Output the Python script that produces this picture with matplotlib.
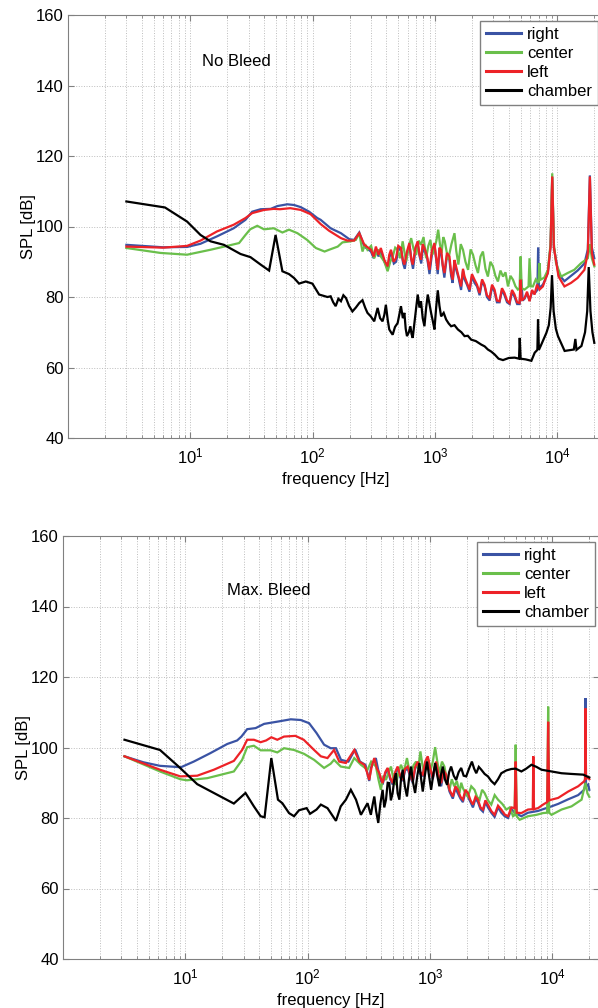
import matplotlib
matplotlib.use("Agg")
import matplotlib.pyplot as plt
from matplotlib.ticker import LogLocator, NullFormatter

plt.rcParams["font.family"] = ["Liberation Sans", "DejaVu Sans"]
plt.rcParams["mathtext.fontset"] = "custom"
plt.rcParams["mathtext.rm"] = "Liberation Sans"

BLUE = "#3a53a4"
GREEN = "#6abf4b"
RED = "#ed2227"
BLACK = "#000000"

LABELS = ["right", "center", "left", "chamber"]

# (frequency [Hz], SPL [dB])

# ---- No Bleed ----
nb_right = [
    (3, 94.8), (6, 94.1), (9.4, 94.2), (12.1, 95.1), (16.5, 97.2), (22.6, 99.5), (28.2, 101.9),
    (32, 104.2), (37.5, 104.9), (45.3, 105.0), (51.4, 105.8), (62, 106.3), (70.3, 106.1),
    (79.7, 105.5), (93.4, 104.2), (109, 102.4), (116, 101.9), (140, 99.5), (170, 98.1),
    (199, 96.4), (218, 96.2), (240, 98.3), (264, 94.3), (299, 92.9), (315, 91), (330, 93.5),
    (345, 91.5), (360, 93), (385, 90), (410, 88), (425, 91.5), (440, 92.5), (460, 89.5),
    (480, 90), (505, 94), (530, 93), (548, 89.5), (565, 88), (592, 92.5), (620, 94.5),
    (640, 90.5), (660, 88), (692, 93.5), (720, 95), (748, 91.5), (770, 89.5), (795, 94.5),
    (820, 93), (862, 91), (900, 86.5), (945, 92.5), (990, 94.5), (1022, 90.5), (1050, 86.5),
    (1088, 93.5), (1120, 92.5), (1158, 88.5), (1190, 85.5), (1252, 92), (1310, 90.5),
    (1352, 86), (1390, 84), (1442, 90), (1480, 88), (1552, 85.5), (1630, 82), (1692, 87.5),
    (1740, 85), (1822, 83.5), (1910, 81.5), (2002, 86), (2100, 84), (2202, 83), (2310, 80.5),
    (2422, 84.5), (2540, 83), (2652, 80), (2790, 79), (2922, 83), (3060, 81.5), (3202, 78.5),
    (3360, 78.5), (3522, 82), (3690, 80.5), (3872, 78.5), (4060, 78), (4252, 81.5), (4460, 80),
    (4682, 78), (4900, 78), (5060, 85), (5200, 79), (5380, 79.5), (5642, 81), (5910, 79),
    (6200, 81.5), (6500, 81), (6850, 82), (6950, 94), (7050, 82.5), (7600, 83.5), (7950, 85),
    (8350, 87), (8780, 94.5), (9060, 114.0), (9350, 94), (10200, 86.5), (11400, 84.5),
    (12900, 86), (14600, 87.5), (16600, 89.5), (17700, 93.5), (18400, 114.5), (19100, 94),
    (20000, 91),
]

nb_center = [
    (3, 93.9), (5.7, 92.5), (9.4, 92.0), (14.6, 93.4), (20, 94.5), (25, 95.3), (28.2, 97.6),
    (30.8, 99.2), (35.2, 100.2), (40, 99.2), (48, 99.5), (56.5, 98.3), (64, 99.1), (75, 98.1),
    (90, 96.2), (106, 93.9), (125, 92.9), (136, 93.4), (160, 94.3), (175, 95.5), (205, 95.8),
    (225, 96.2), (240, 98.1), (255, 92.9), (268, 95), (280, 93.4), (300, 94.5), (318, 91),
    (340, 93.5), (360, 91.5), (385, 90), (409, 87.3), (430, 90), (450, 91.5), (472, 94),
    (494, 93.4), (518, 91), (543, 95.8), (560, 93), (580, 90.1), (608, 94), (637, 96.7),
    (668, 93.5), (700, 92), (735, 96), (767, 94.8), (805, 97), (844, 91), (880, 94.5),
    (915, 96.2), (950, 92), (988, 93.9), (1025, 96), (1060, 99.1), (1095, 95), (1130, 92.5),
    (1165, 97), (1200, 95.8), (1240, 93), (1280, 90.6), (1360, 95), (1440, 98.1), (1490, 93),
    (1550, 89.2), (1620, 95), (1690, 93.4), (1770, 90), (1860, 87.7), (1950, 93.5), (2040, 92),
    (2140, 89), (2240, 86.8), (2350, 91.5), (2460, 92.9), (2580, 88), (2700, 85.8), (2830, 90),
    (2970, 88.7), (3110, 86), (3260, 84.4), (3420, 87.5), (3590, 85.8), (3760, 87), (3940, 83),
    (4130, 86), (4330, 84.9), (4540, 83), (4750, 82.1), (4900, 82.5), (5000, 91.5), (5100, 82.5),
    (5380, 82.1), (5800, 83), (5910, 91), (6050, 83), (6300, 83), (6650, 85), (7000, 84),
    (7130, 89.6), (7260, 84.9), (7800, 85.5), (8350, 87.7), (8780, 95), (9060, 115.1),
    (9350, 95), (9730, 89.6), (10700, 85.8), (12100, 86.8), (13700, 87.7), (15600, 89.6),
    (17700, 91), (18400, 95), (19100, 91), (20000, 88.7),
]

nb_left = [
    (3, 94.3), (6, 94.0), (9.4, 94.5), (12.1, 96.0), (16.5, 98.6), (22.6, 100.5), (28.2, 102.4),
    (32, 103.8), (40, 104.7), (48, 105.0), (54, 104.9), (65.5, 105.2), (80, 104.7), (96, 103.5),
    (116, 100.7), (136, 98.8), (170, 96.7), (192, 96.0), (218, 96.0), (240, 98.1), (264, 94.8),
    (299, 93.4), (315, 91.5), (328, 94.3), (345, 92), (360, 93.9), (385, 90.5), (409, 88.7),
    (422, 92), (436, 93.4), (458, 90), (479, 91), (500, 94.5), (526, 93.9), (545, 90.5),
    (561, 89.2), (590, 93), (616, 95.3), (636, 91), (656, 89.2), (690, 94), (721, 95.8),
    (745, 92), (767, 90.6), (792, 95), (818, 93.9), (860, 91.5), (899, 87.7), (940, 93),
    (988, 95.3), (1020, 91), (1052, 87.7), (1085, 94), (1120, 93.4), (1155, 89), (1192, 86.8),
    (1250, 92.5), (1310, 91.5), (1350, 87), (1393, 84.9), (1440, 90.5), (1483, 88.7), (1550, 86),
    (1629, 83), (1690, 88), (1740, 85.8), (1820, 84), (1912, 82.1), (2000, 86.5), (2100, 84.9),
    (2200, 83.5), (2308, 81.1), (2420, 85), (2535, 83.5), (2650, 80.5), (2785, 79.7),
    (2920, 83.5), (3060, 82.1), (3200, 79), (3361, 78.8), (3520, 82.5), (3693, 81.1),
    (3870, 79), (4057, 78.3), (4250, 82), (4457, 80.7), (4680, 78.5), (4897, 78.3), (5000, 84.9),
    (5100, 79), (5380, 79.7), (5640, 81.5), (5910, 78.8), (6200, 82), (6495, 80.7),
    (6800, 83.5), (7134, 82.1), (7600, 83), (7950, 85), (8350, 86.8), (8780, 94.3),
    (9060, 114.2), (9350, 94.0), (10200, 85.8), (11400, 83.0), (12900, 84.0), (14600, 85.4),
    (16600, 87.7), (17700, 92.5), (18400, 114.2), (19100, 92.5), (20000, 89.2),
]

nb_chamber = [
    (3, 107.1), (6.2, 105.4), (9.4, 101.4), (12.1, 97.6), (14.6, 95.8), (18.8, 94.8),
    (25.7, 92.2), (31, 91.3), (37.5, 89.2), (44, 87.5), (49.7, 97.6), (56.5, 87.3), (64, 86.5),
    (70.3, 85.4), (77.3, 83.8), (87.7, 84.4), (99.4, 83.8), (112.7, 80.7), (132, 80),
    (140, 80.2), (147, 78.5), (154, 77.4), (162, 79.5), (170, 78.8), (178, 80.5), (187, 79.7),
    (198, 77.5), (211, 75.9), (225, 77), (240, 78.3), (255, 79.1), (268, 77), (280, 75.5),
    (298, 74.5), (318, 73.1), (339, 76.9), (355, 74), (372, 73.1), (385, 75), (396, 77.8),
    (410, 73.5), (422, 70.8), (436, 70), (450, 69.3), (470, 71.5), (494, 72.6), (510, 75),
    (526, 77.4), (545, 74), (561, 75.5), (575, 71), (589, 68.9), (610, 70), (628, 71.7),
    (642, 69.5), (656, 68.4), (690, 75), (721, 80.7), (745, 77), (767, 78.8), (792, 74),
    (818, 71.7), (845, 77), (871, 80.7), (900, 78), (927, 75.5), (960, 73), (988, 70.8),
    (1020, 77), (1052, 81.9), (1085, 77.5), (1120, 74.5), (1175, 75.5), (1231, 73.6),
    (1290, 72.5), (1352, 71.7), (1440, 72), (1534, 70.8), (1640, 70), (1740, 68.9), (1850, 69),
    (1972, 67.9), (2150, 67.5), (2383, 66.5), (2540, 66), (2700, 65.1), (2880, 64.5),
    (3065, 63.7), (3300, 62.5), (3586, 62.1), (4000, 62.7), (4470, 62.8), (4850, 62.5),
    (4915, 68.4), (5000, 62.5), (5500, 62.3), (6120, 61.9), (6515, 64.2), (6850, 65),
    (6935, 73.6), (7050, 65), (7290, 66.1), (8110, 69.8), (8500, 72), (8800, 77), (9020, 86.2),
    (9300, 76), (9700, 71), (10090, 68.9), (11440, 64.7), (13600, 65.1), (14000, 68.1),
    (14300, 65), (15700, 66.1), (16800, 70), (17500, 76), (18000, 88.5), (18600, 76),
    (19300, 70), (20000, 67),
]

# ---- Max. Bleed ----
mb_right = [
    (3.18, 97.5), (4.55, 95.8), (6.2, 94.8), (9.2, 94.4), (11.7, 96.0), (16, 98.4), (22, 101.0),
    (26.5, 102.0), (28.7, 103.1), (32, 105.2), (37.5, 105.5), (44, 106.7), (58, 107.4),
    (72.6, 108.0), (87.7, 107.8), (102.6, 106.9), (118, 104.1), (136, 100.8), (154, 99.8),
    (170, 99.8), (187, 96.5), (215, 96.0), (244, 99.5), (267, 96.0), (296, 95.1), (318, 90.5),
    (328, 94.2), (360, 97.0), (385, 92), (398, 90.5), (409, 89.5), (430, 92.5), (450, 94),
    (472, 91), (494, 89.5), (518, 92.5), (543, 94), (570, 91.5), (597, 90.5), (625, 93.5),
    (656, 94), (690, 91.5), (721, 90), (755, 94), (792, 95.5), (830, 92.5), (871, 92),
    (912, 95.5), (957, 97), (1003, 93.5), (1052, 91), (1085, 93.5), (1119, 95.5), (1175, 91.5),
    (1231, 89), (1290, 93), (1352, 91.5), (1440, 87.5), (1534, 85.5), (1610, 88.5), (1686, 87),
    (1770, 85.5), (1853, 84.5), (1945, 87.5), (2037, 86), (2140, 84.5), (2239, 83),
    (2350, 85.5), (2460, 84.5), (2580, 82.5), (2704, 81.8), (2830, 84.5), (2970, 83),
    (3160, 81.5), (3365, 80.3), (3590, 83), (3818, 81.5), (4070, 80.5), (4335, 80),
    (4620, 82.5), (4913, 81.5), (5570, 80.5), (6310, 81.5), (7620, 82), (8370, 82.5),
    (9820, 83.3), (11130, 84), (13430, 85.3), (16220, 86.5), (18150, 88), (18450, 89),
    (18620, 114.0), (18800, 89), (19580, 89.5), (20000, 88),
]

mb_center = [
    (3.18, 97.5), (6.2, 93.2), (9.1, 91.0), (10.3, 90.7), (15.1, 91.3), (24.9, 93.2),
    (29.1, 96.5), (32, 100.1), (36.3, 100.5), (41.2, 99.2), (49.7, 99.2), (56.4, 98.6),
    (64, 99.8), (77.3, 99.3), (93.3, 98.2), (112.7, 96.5), (136, 94.2), (154, 95.4),
    (164, 96.5), (186, 94.6), (218, 94.2), (240, 97.0), (272, 95.1), (308, 93.7), (330, 96),
    (361, 94.6), (378, 91), (396, 88.0), (415, 92), (436, 90.8), (458, 93), (479, 94.6),
    (502, 91), (526, 89.4), (552, 93), (578, 95.1), (610, 93), (647, 97.0), (672, 94),
    (699, 92.7), (733, 95), (768, 96.0), (800, 94), (833, 98.9), (865, 95), (898, 92.7),
    (932, 95), (968, 96.5), (1010, 93.5), (1052, 96.0), (1099, 100.1), (1145, 96),
    (1191, 92.7), (1250, 96), (1309, 94.6), (1370, 91), (1438, 88.0), (1505, 91), (1575, 89.0),
    (1655, 90.5), (1738, 87.1), (1795, 90), (1853, 88.5), (1945, 87), (2037, 86.1), (2170, 89),
    (2307, 88.0), (2420, 86), (2535, 85.2), (2660, 88), (2786, 87.1), (2970, 85), (3162, 83.8),
    (3370, 86.5), (3589, 85.2), (3890, 84), (4198, 82.4), (4470, 83), (4761, 80.5),
    (4900, 80.8), (5004, 100.8), (5100, 80.5), (5395, 79.5), (6310, 80.5), (7396, 80.9),
    (8370, 81.4), (9050, 81.5), (9220, 111.6), (9400, 81.5), (9820, 80.9), (11860, 82.4),
    (14310, 83.3), (17290, 85.2), (18620, 90.0), (19300, 87.0), (20000, 86.0),
]

mb_left = [
    (3.18, 97.5), (6.2, 93.7), (9.1, 91.8), (12.5, 92.0), (17.1, 93.7), (24.9, 96.2),
    (29.1, 99.3), (32, 102.2), (36.3, 102.2), (41.2, 101.5), (45.7, 102.0), (50.4, 102.9),
    (56.4, 102.2), (64, 103.1), (79.3, 103.3), (92.7, 102.2), (112.7, 99.3), (128, 97.5),
    (145, 97.0), (164, 99.3), (181, 96.0), (205, 95.6), (240, 99.3), (264, 96.0), (290, 95.1),
    (305, 93), (318, 90.8), (335, 95), (350, 97.0), (368, 94), (385, 92.7), (398, 91),
    (409, 89.9), (430, 93), (450, 94.2), (472, 91.5), (494, 89.9), (518, 93), (543, 94.6),
    (570, 92), (597, 90.8), (625, 94), (656, 94.6), (690, 92), (721, 90.4), (755, 94.5),
    (792, 96.0), (830, 93), (871, 92.3), (912, 96), (957, 97.5), (1003, 94), (1052, 91.3),
    (1085, 94), (1119, 96.0), (1175, 92), (1231, 89.9), (1290, 93.5), (1352, 92.3), (1440, 88),
    (1534, 86.1), (1610, 89), (1686, 88.0), (1770, 86), (1853, 85.2), (1945, 88), (2037, 87.1),
    (2140, 85), (2239, 83.8), (2350, 86), (2460, 85.2), (2580, 83), (2704, 82.4), (2830, 85),
    (2970, 83.8), (3160, 82), (3365, 80.9), (3590, 83.5), (3818, 82.4), (4070, 81),
    (4335, 80.5), (4620, 83), (4913, 82.8), (5004, 96.0), (5100, 81.5), (5570, 81.4),
    (6310, 82.4), (6900, 82.5), (6980, 97.5), (7060, 82.5), (7620, 82.8), (8370, 83.8),
    (9050, 84.5), (9220, 107.3), (9400, 85.0), (9820, 85.2), (11130, 85.7), (13430, 87.5),
    (16220, 89.0), (18150, 90.4), (18450, 91.0), (18620, 111.1), (18800, 91.0), (19580, 91.6),
    (20000, 91.0),
]

mb_chamber = [
    (3.18, 102.2), (6.2, 99.3), (8.8, 94.6), (12.5, 89.6), (18.2, 86.6), (24.9, 84.1),
    (31, 87.1), (36.3, 83.3), (41.2, 80.5), (44.4, 80.2), (50.4, 97.0), (57.1, 85.2),
    (62, 84.2), (70.3, 81.4), (77.3, 80.5), (84.9, 82.2), (98, 82.8), (104.5, 81.2),
    (118, 82.4), (128, 83.8), (145, 82.8), (170, 79.2), (186, 83.3), (205, 85.2), (225, 88.0),
    (248, 85.2), (272, 80.9), (308, 84.2), (328, 80.9), (340, 84), (350, 86.1), (362, 82),
    (377, 78.6), (392, 84), (409, 88.0), (422, 83), (436, 85.2), (450, 90), (464, 89.9),
    (478, 85), (494, 87.1), (510, 91), (526, 92.7), (543, 87), (561, 85.2), (578, 91),
    (597, 93.7), (622, 89), (647, 86.1), (672, 91), (699, 94.6), (726, 90), (754, 87.1),
    (786, 92), (818, 95.6), (845, 91), (871, 87.5), (905, 92), (944, 96.0), (980, 92),
    (1019, 88.0), (1058, 92), (1099, 95.6), (1145, 92), (1191, 89.0), (1230, 92.5),
    (1270, 94.6), (1320, 91), (1377, 89.4), (1430, 93), (1485, 94.6), (1560, 92), (1633, 90.8),
    (1710, 93), (1795, 94.2), (1880, 92), (1972, 91.8), (2080, 94), (2196, 96.0), (2290, 94),
    (2384, 92.7), (2500, 94.5), (2620, 93.7), (2790, 92.5), (2970, 91.8), (3160, 90.5),
    (3365, 89.6), (3590, 91), (3818, 92.7), (4200, 93.5), (4613, 93.9), (5000, 94),
    (5570, 93.2), (6100, 94), (6730, 95.1), (7400, 94.5), (8128, 93.7), (9820, 93.2),
    (11860, 92.7), (14310, 92.5), (17830, 92.3), (20000, 91.5),
]


def style_axis(ax):
    ax.set_xscale("log")
    ax.set_xlim(1, 24000)
    ax.set_ylim(40, 160)
    ax.set_yticks(range(40, 161, 20))
    ax.set_xticks([10, 100, 1000, 10000])
    ax.xaxis.set_minor_locator(LogLocator(base=10, subs=range(2, 10), numticks=20))
    ax.xaxis.set_minor_formatter(NullFormatter())
    ax.tick_params(which="both", direction="in", top=True, right=True, labelsize=12,
                   color="#808080")
    ax.tick_params(which="major", length=4)
    ax.tick_params(which="minor", length=2)
    ax.tick_params(axis="x", which="major", pad=6)
    ax.tick_params(axis="y", which="major", pad=3)
    ax.grid(True, which="major", ls=":", color="#bdbdbd", lw=0.7)
    ax.grid(True, which="minor", axis="x", ls=":", color="#bdbdbd", lw=0.7)
    ax.set_axisbelow(True)
    for s in ax.spines.values():
        s.set_color("#808080")
    ax.set_xlabel("frequency [Hz]", fontsize=12, labelpad=4)
    ax.set_ylabel("SPL [dB]", fontsize=12, labelpad=0)


def draw_panel(ax, series, title, title_x, title_y, legend_anchor):
    colors = [BLUE, GREEN, RED, BLACK]
    for pts, c, lab in zip(series, colors, LABELS):
        f, v = zip(*pts)
        ax.plot(f, v, color=c, lw=1.6, label=lab, solid_joinstyle="miter")
    style_axis(ax)
    ax.text(title_x, title_y, title, fontsize=12, ha="left", va="center")
    leg = ax.legend(loc="upper right", bbox_to_anchor=legend_anchor,
                    bbox_transform=ax.figure.transFigure, borderaxespad=0, fontsize=12,
                    handlelength=2.1, handletextpad=0.4, borderpad=0.35, labelspacing=0.25,
                    fancybox=False, framealpha=1, edgecolor="#808080")
    leg.get_frame().set_linewidth(1.0)
    for h in leg.get_lines():
        h.set_linewidth(2.2)


fig = plt.figure(figsize=(5.98, 10.08), dpi=100)
ax1 = fig.add_axes([68 / 598, 1 - 438 / 1008, (604 - 68) / 598, (438 - 15) / 1008])
ax2 = fig.add_axes([63 / 598, 1 - 959 / 1008, (599 - 63) / 598, (959 - 536) / 1008])

draw_panel(ax1, [nb_right, nb_center, nb_left, nb_chamber],
           "No Bleed", 12.5, 146.7, (598 / 598, 1 - 21 / 1008))
draw_panel(ax2, [mb_right, mb_center, mb_left, mb_chamber],
           "Max. Bleed", 22, 144.4, (595 / 598, 1 - 542 / 1008))

fig.savefig("out.png", dpi=100, facecolor="white")
